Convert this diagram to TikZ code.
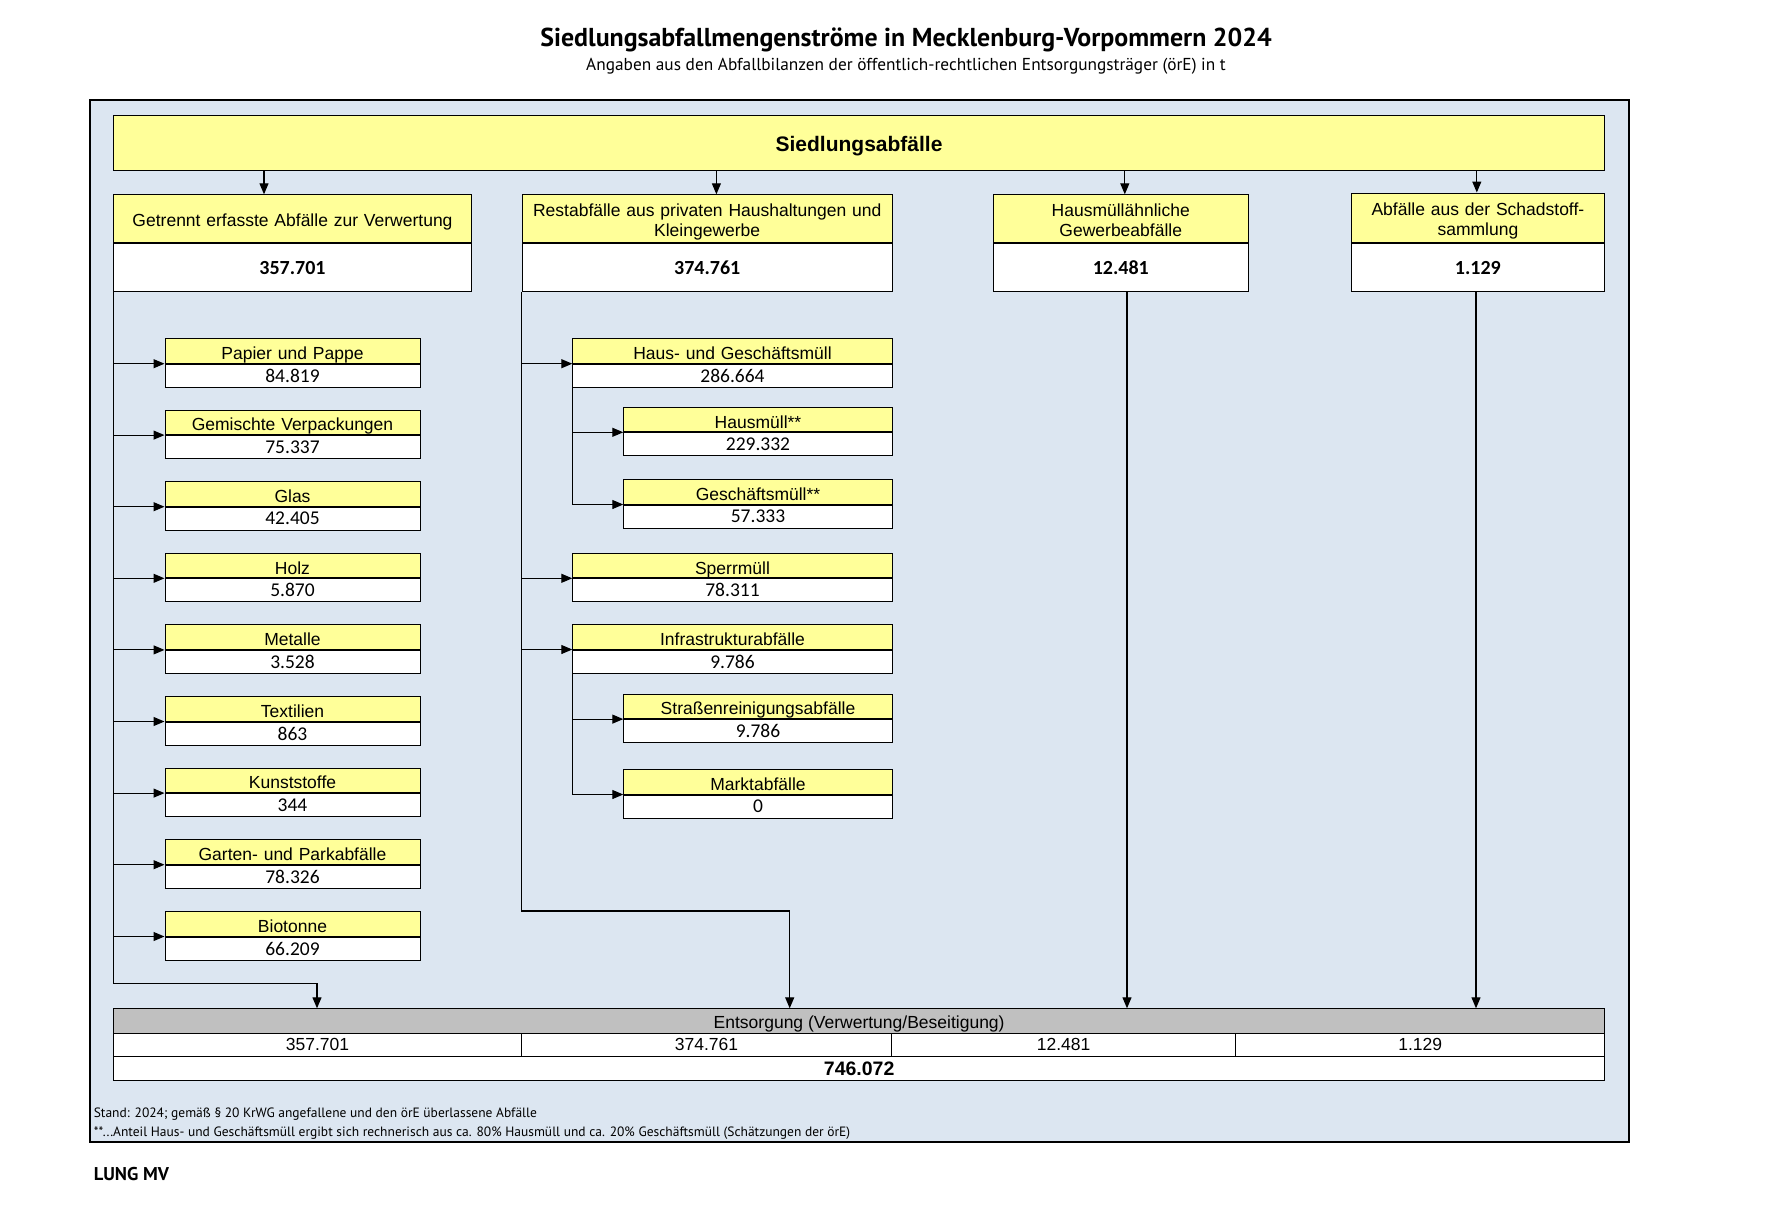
\documentclass[tikz,border=0pt]{standalone}
\usepackage{fontspec}
\setmainfont{Liberation Sans}
\newfontfamily\ptsans{PT Sans}
\newfontfamily\carl{Carlito}
\usetikzlibrary{arrows.meta}
\definecolor{bgblue}{HTML}{DCE6F1}
\definecolor{ylw}{HTML}{FFFF99}
\definecolor{gry}{HTML}{C0C0C0}
\newcommand\subbx[6]{%
  \node[lab, text width=#4pt] (#1) at (#2,#3) {#5};
  \node[val, text width=#4pt] (#1v) at (#1.south) {#6};
}
\newcommand\hdbx[8]{%
  \node[hlab, minimum width=#4pt, minimum height=#5pt] (#1) at (#2,#3) {};
  \node[htxt, text width=#4pt] (#1t) at ([yshift=#8pt]#1.center) {#6};
  \node[hval, text width=#4pt] (#1v) at (#1.south) {#7};
}
\begin{document}
\begin{tikzpicture}[x=1pt,y=-1pt,
  box/.style={draw, line width=1pt, inner sep=0pt, align=center},
  lab/.style={box, fill=ylw, anchor=north west, minimum height=24.5pt, text height=17pt, text depth=0pt, font=\fontsize{17.5}{20}\selectfont},
  val/.style={box, fill=white, anchor=north, minimum height=23pt, font=\carl\fontsize{19.5}{21}\selectfont},
  hlab/.style={box, fill=ylw, anchor=north west},
  htxt/.style={inner sep=0pt, align=center, font=\fontsize{17.5}{20.3}\selectfont},
  hval/.style={box, fill=white, anchor=north, minimum height=48pt, font=\carl\bfseries\fontsize{20}{22}\selectfont},
  cell/.style={box, fill=white, anchor=north west, font=\fontsize{17.5}{20}\selectfont},
  conn/.style={line width=1.1pt},
  arr/.style={conn, -{Triangle[length=11pt,width=9pt]}},
]
\useasboundingbox (0,0) rectangle (1769,1219);
% title
\node[font=\ptsans\bfseries\fontsize{25.9}{28}\selectfont] (title) at (906,40) {Siedlungsabfallmengenströme in Mecklenburg-Vorpommern 2024};
\node[font=\ptsans\fontsize{17.3}{20}\selectfont] (subtitle) at (906,66.5) {Angaben aus den Abfallbilanzen der öffentlich-rechtlichen Entsorgungsträger (örE) in t};
% frame
\draw[fill=bgblue, line width=2pt] (90,100) rectangle (1628.5,1141.5);
% top box
\node[box, fill=ylw, anchor=north west, minimum width=1491.5pt, minimum height=55.4pt, text height=16.2pt, text depth=0pt, font=\bfseries\fontsize{21}{24}\selectfont] (sied) at (112.8,115) {Siedlungsabfälle};
% header boxes
\hdbx{gt}{113.3}{194.3}{357.4}{48}{Getrennt erfasste Abfälle zur Verwertung}{357.701}{-3.4}
\hdbx{rs}{521.7}{194.3}{370}{48}{Restabfälle aus privaten Haushaltungen und\\Kleingewerbe}{374.761}{-3.4}
\hdbx{hmg}{993}{194.3}{254.5}{48}{Hausmüllähnliche\\Gewerbeabfälle}{12.481}{-1.2}
\hdbx{sch}{1350.5}{192.5}{253.8}{49.8}{Abfälle aus der Schadstoff-\\sammlung}{1.129}{-3.4}
% left column
\subbx{pap}{164.5}{338.2}{255}{Papier und Pappe}{84.819}
\subbx{gem}{164.5}{409.6}{255}{Gemischte Verpackungen}{75.337}
\subbx{gla}{164.5}{481.2}{255}{Glas}{42.405}
\subbx{hol}{164.5}{552.8}{255}{Holz}{5.870}
\subbx{met}{164.5}{624.4}{255}{Metalle}{3.528}
\subbx{tex}{164.5}{696.0}{255}{Textilien}{863}
\subbx{kun}{164.5}{767.6}{255}{Kunststoffe}{344}
\subbx{gar}{164.5}{839.2}{255}{Garten- und Parkabfälle}{78.326}
\subbx{bio}{164.5}{911.0}{255}{Biotonne}{66.209}
% middle column
\subbx{hg}{572.3}{338.2}{319.4}{Haus- und Geschäftsmüll}{286.664}
\subbx{hm}{623.3}{406.8}{268.4}{Hausmüll**}{229.332}
\subbx{gsm}{623.3}{479.0}{268.4}{Geschäftsmüll**}{57.333}
\subbx{spe}{572.3}{552.8}{319.4}{Sperrmüll}{78.311}
\subbx{inf}{572.3}{624.0}{319.4}{Infrastrukturabfälle}{9.786}
\subbx{str}{623.3}{693.6}{268.4}{Straßenreinigungsabfälle}{9.786}
\subbx{mkt}{623.3}{769.0}{268.4}{Marktabfälle}{0}
% disposal table
\node[box, fill=gry, anchor=north west, minimum width=1491.3pt, minimum height=24.5pt, text height=15.5pt, text depth=0pt, font=\fontsize{17.5}{20}\selectfont] (ent) at (113,1008.3) {Entsorgung (Verwertung/Beseitigung)};
\node[cell, minimum width=408pt, minimum height=23.3pt] (e1) at (113,1032.8) {357.701};
\node[cell, minimum width=370pt, minimum height=23.3pt] (e2) at (521,1032.8) {374.761};
\node[cell, minimum width=344.2pt, minimum height=23.3pt] (e3) at (891,1032.8) {12.481};
\node[cell, minimum width=369.1pt, minimum height=23.3pt] (e4) at (1235.2,1032.8) {1.129};
\node[cell, minimum width=1491.3pt, minimum height=24pt, font=\bfseries\fontsize{19.5}{22}\selectfont] (etot) at (113,1056.1) {746.072};
% coordinates
\coordinate (xa) at (264,0);
\coordinate (xb) at (716.4,0);
\coordinate (xc) at (1124.8,0);
\coordinate (xd) at (1476.8,0);
\coordinate (xh) at (1127,0);
\coordinate (xs) at (1476,0);
\coordinate (gturn) at (317,983.3);
\coordinate (rturn) at (789.7,911);
% top arrows
\draw[arr] (sied.south -| xa) -- (gt.north -| xa);
\draw[arr] (sied.south -| xb) -- (rs.north -| xb);
\draw[arr] (sied.south -| xc) -- (hmg.north -| xc);
\draw[arr] (sied.south -| xd) -- (sch.north -| xd);
% left branch
\draw[arr] (gtv.south west) |- (gturn) -- (gturn |- ent.north);
\foreach \n in {pap,gem,gla,hol,met,tex,kun,gar,bio}
  \draw[arr] (gtv.south west |- \n.south west) -- (\n.south west);
% middle branch
\draw[arr] (rsv.south west) |- (rturn) -- (rturn |- ent.north);
\foreach \n in {hg,spe,inf}
  \draw[arr] (rsv.south west |- \n.south west) -- (\n.south west);
\draw[arr] (hgv.south west) |- (gsm.south west);
\draw[arr] (hgv.south west |- hm.south west) -- (hm.south west);
\draw[arr] (infv.south west) |- (mkt.south west);
\draw[arr] (infv.south west |- str.south west) -- (str.south west);
% right branches
\draw[arr] (hmgv.south -| xh) -- (ent.north -| xh);
\draw[arr] (schv.south -| xs) -- (ent.north -| xs);
% footnotes
\node[anchor=west, inner sep=0pt, font=\ptsans\fontsize{13.5}{15}\selectfont] (fn1) at (93.6,1114) {Stand: 2024; gemäß § 20 KrWG angefallene und den örE überlassene Abfälle};
\node[anchor=west, inner sep=0pt, font=\ptsans\fontsize{13.5}{15}\selectfont] (fn2) at (93.6,1133.5) {**...Anteil Haus- und Geschäftsmüll ergibt sich rechnerisch aus ca. 80\% Hausmüll und ca. 20\% Geschäftsmüll (Schätzungen der örE)};
\node[anchor=west, inner sep=0pt, font=\ptsans\bfseries\fontsize{18.5}{20}\selectfont] (lung) at (93.6,1174) {LUNG MV};
\end{tikzpicture}
\end{document}
